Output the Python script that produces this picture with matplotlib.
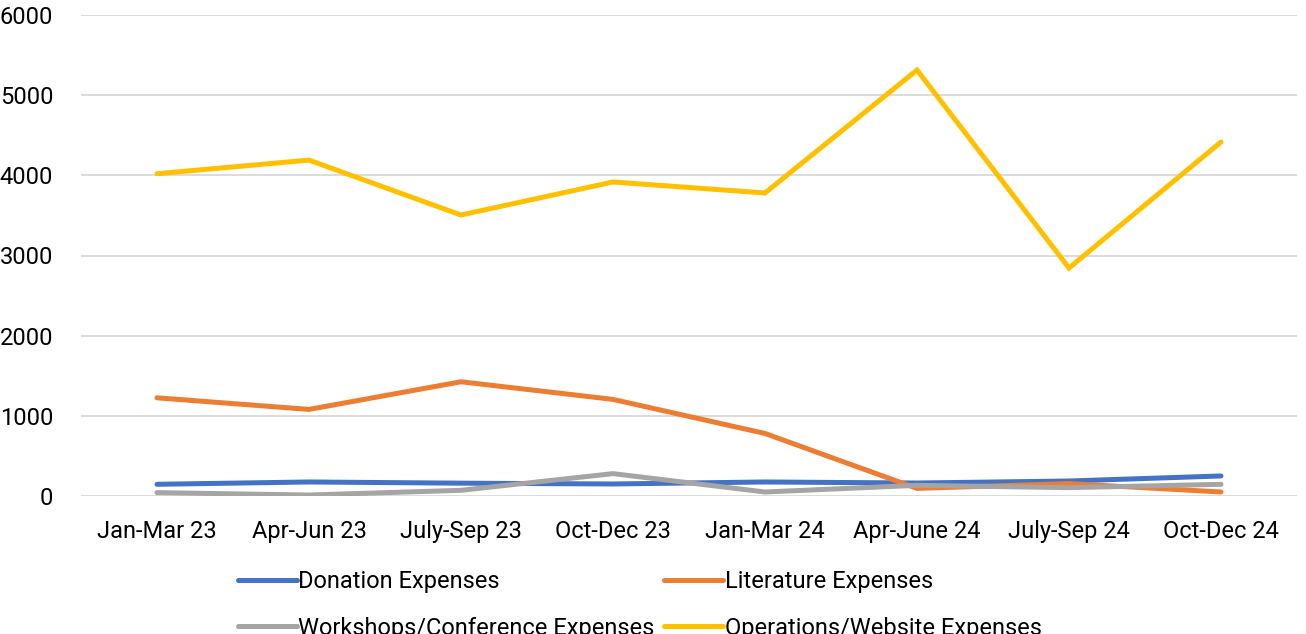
import matplotlib.pyplot as plt

plt.rcParams['font.family'] = ['Roboto', 'DejaVu Sans']

quarters = ['Jan-Mar 23', 'Apr-Jun 23', 'July-Sep 23', 'Oct-Dec 23',
            'Jan-Mar 24', 'Apr-June 24', 'July-Sep 24', 'Oct-Dec 24']
donation = [146, 175, 160, 150, 175, 162, 187, 250]
literature = [1225, 1080, 1425, 1205, 780, 95, 155, 50]
workshops = [42, 12, 71, 279, 50, 133, 104, 146]
operations = [4020, 4190, 3505, 3917, 3780, 5314, 2844, 4416]

series = [
    ('Donation Expenses', donation, '#4472C4'),
    ('Literature Expenses', literature, '#ED7D31'),
    ('Workshops/Conference Expenses', workshops, '#A5A5A5'),
    ('Operations/Website Expenses', operations, '#FFC000'),
]

fig = plt.figure(figsize=(13.06, 6.34), dpi=100)
ax = fig.add_axes([81 / 1306, 138 / 634, 1216 / 1306, 481 / 634])

x = range(len(quarters))
lines = {}
for name, vals, col in series:
    ln, = ax.plot(x, vals, color=col, lw=3.6, label=name,
                  solid_capstyle='round', solid_joinstyle='miter')
    lines[name] = ln

ax.set_xlim(-0.5, len(quarters) - 0.5)
ax.set_ylim(0, 6000)
ax.set_yticks(range(0, 6001, 1000))
ax.set_xticks(list(x))
ax.set_xticklabels(quarters)
ax.grid(axis='y', color='#D9D9D9', lw=1.3)
ax.set_axisbelow(True)
for s in ax.spines.values():
    s.set_visible(False)
ax.tick_params(length=0, labelsize=17, labelcolor='#000000')
ax.tick_params(axis='x', pad=17)
ax.tick_params(axis='y', pad=20)

# legend fills column by column, so order so rows read like the original
order = ['Donation Expenses', 'Workshops/Conference Expenses',
         'Literature Expenses', 'Operations/Website Expenses']
fig.legend([lines[n] for n in order], order,
           loc='upper left', bbox_to_anchor=(238 / 1306, 1 - 570 / 634), ncol=2,
           frameon=False, fontsize=17, handlelength=2.5, handletextpad=0.05,
           columnspacing=0.42, labelspacing=1.0, borderpad=0, borderaxespad=0)

plt.savefig('out.png', dpi=100)
